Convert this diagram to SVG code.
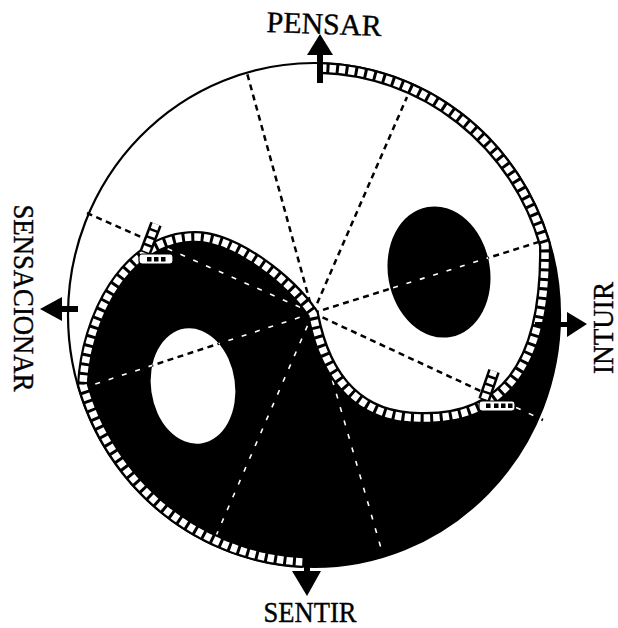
<svg xmlns="http://www.w3.org/2000/svg" xmlns:xlink="http://www.w3.org/1999/xlink" width="618" height="628" viewBox="0 0 618 628">
  <style>
    .lbl { font-family: "Liberation Serif", "Times New Roman", serif; font-size: 30px; fill: #000; stroke: #000; stroke-width: 0.4; text-anchor: middle; }
    .outline { fill: none; stroke: #000; stroke-width: 2.2; }
    .spokeB { fill: none; stroke: #000; stroke-width: 2.5; stroke-dasharray: 6 4.5; }
    .spokeW { fill: none; stroke: #fff; stroke-width: 1.6; stroke-dasharray: 5 9; }
    .bandB { fill: none; stroke: #000; stroke-width: 12; }
    .bandW { fill: none; stroke: #fff; stroke-width: 7.5; stroke-dasharray: 6.5 3; }
    .stubB { fill: none; stroke: #000; stroke-width: 12; }
    .stubW { fill: none; stroke: #fff; stroke-width: 7; stroke-dasharray: 5.5 2.5; }
  </style>
  <defs>
    <path id="yinPath" d="M 83 385 C 86 320, 125 237, 195 237 C 235 237, 290 280, 313 314 C 318 340, 335 418, 420 418 C 500 420, 547 370, 545 245 L 550.3 245 A 246 252 0 0 1 314 567 A 246 252 0 0 1 77.7 385 Z"/>
    <path id="bandPath" d="M 320 68 A 241 247 0 0 1 545 245 C 547 370, 500 420, 420 418 C 335 418, 318 340, 313 314 C 290 280, 235 237, 195 237 C 125 237, 86 320, 83 385 A 241 247 0 0 0 303 562"/>
    <ellipse id="dotBlack" cx="439" cy="272" rx="51" ry="66" transform="rotate(-10 439 272)"/>
    <ellipse id="dotWhite" cx="193" cy="386" rx="42" ry="58" transform="rotate(-8 193 386)"/>
    <path id="spokes" d="M313 313 L247 73 M313 313 L383 555 M313 313 L407 97 M313 313 L212 545 M313 313 L545 240 M313 313 L83 388 M313 313 L87 213 M313 313 L543 420"/>
    <mask id="onBlack" maskUnits="userSpaceOnUse" x="0" y="0" width="618" height="628">
      <use xlink:href="#yinPath" fill="#fff"/>
      <use xlink:href="#dotBlack" fill="#fff"/>
      <use xlink:href="#dotWhite" fill="#000"/>
    </mask>
    <mask id="onWhite" maskUnits="userSpaceOnUse" x="0" y="0" width="618" height="628">
      <rect x="0" y="0" width="618" height="628" fill="#fff"/>
      <use xlink:href="#yinPath" fill="#000"/>
      <use xlink:href="#dotBlack" fill="#000"/>
      <use xlink:href="#dotWhite" fill="#fff"/>
    </mask>
  </defs>

  <rect x="0" y="0" width="618" height="628" fill="#fff"/>

  <g id="circle">
    <ellipse class="outline" cx="314" cy="315" rx="246" ry="252"/>
  </g>

  <g id="yin">
    <use xlink:href="#yinPath" fill="#000"/>
  </g>

  <g id="dot-black">
    <use xlink:href="#dotBlack" fill="#000"/>
  </g>
  <g id="dot-white">
    <use xlink:href="#dotWhite" fill="#fff"/>
  </g>

  <g id="connectors">
    <use xlink:href="#spokes" class="spokeB" mask="url(#onWhite)"/>
    <use xlink:href="#spokes" class="spokeW" mask="url(#onBlack)"/>
  </g>

  <g id="band">
    <use xlink:href="#bandPath" class="bandB"/>
    <use xlink:href="#bandPath" class="bandW"/>
  </g>

  <g id="stub-left">
    <path class="stubB" d="M156 224 L145 253"/>
    <path class="stubW" d="M156 224 L145 253"/>
    <rect x="139" y="254" width="34" height="10" rx="3" fill="#fff" stroke="#000" stroke-width="1.2"/>
    <rect x="147" y="257" width="4.5" height="4.5" fill="#000"/>
    <rect x="154" y="257" width="4.5" height="4.5" fill="#000"/>
    <rect x="161" y="257" width="4.5" height="4.5" fill="#000"/>
  </g>

  <g id="stub-right">
    <path class="stubB" d="M494 371 L484 400"/>
    <path class="stubW" d="M494 371 L484 400"/>
    <rect x="479" y="401" width="36" height="10" rx="3" fill="#fff" stroke="#000" stroke-width="1.2"/>
    <rect x="486" y="403.5" width="4.5" height="4.5" fill="#000"/>
    <rect x="494" y="403.5" width="4.5" height="4.5" fill="#000"/>
    <rect x="501" y="403.5" width="4.5" height="4.5" fill="#000"/>
    <rect x="508" y="403.5" width="4.5" height="4.5" fill="#000"/>
  </g>

  <g id="pensar">
    <rect x="317" y="54" width="6" height="29" fill="#000"/>
    <polygon points="320,34 333,55 307,55" fill="#000"/>
    <text class="lbl" x="324" y="34" transform="rotate(2 324 25)" textLength="115" lengthAdjust="spacingAndGlyphs">PENSAR</text>
  </g>

  <g id="sentir">
    <rect x="304" y="556" width="6" height="16" fill="#000"/>
    <polygon points="292,571 321,571 307,596" fill="#000"/>
    <text class="lbl" x="310" y="622" textLength="93" lengthAdjust="spacingAndGlyphs">SENTIR</text>
  </g>

  <g id="sensacionar">
    <rect x="60" y="306" width="18" height="6" fill="#000"/>
    <polygon points="40,309 62,297 62,321" fill="#000"/>
    <text class="lbl" transform="translate(14 298) rotate(90)" x="0" y="0" textLength="187" lengthAdjust="spacingAndGlyphs">SENSACIONAR</text>
  </g>

  <g id="intuir">
    <rect x="535" y="322" width="33" height="5" fill="#000"/>
    <polygon points="587,324 567,312 567,337" fill="#000"/>
    <text class="lbl" transform="translate(613 328) rotate(-90)" x="0" y="0" textLength="92" lengthAdjust="spacingAndGlyphs">INTUIR</text>
  </g>
</svg>
